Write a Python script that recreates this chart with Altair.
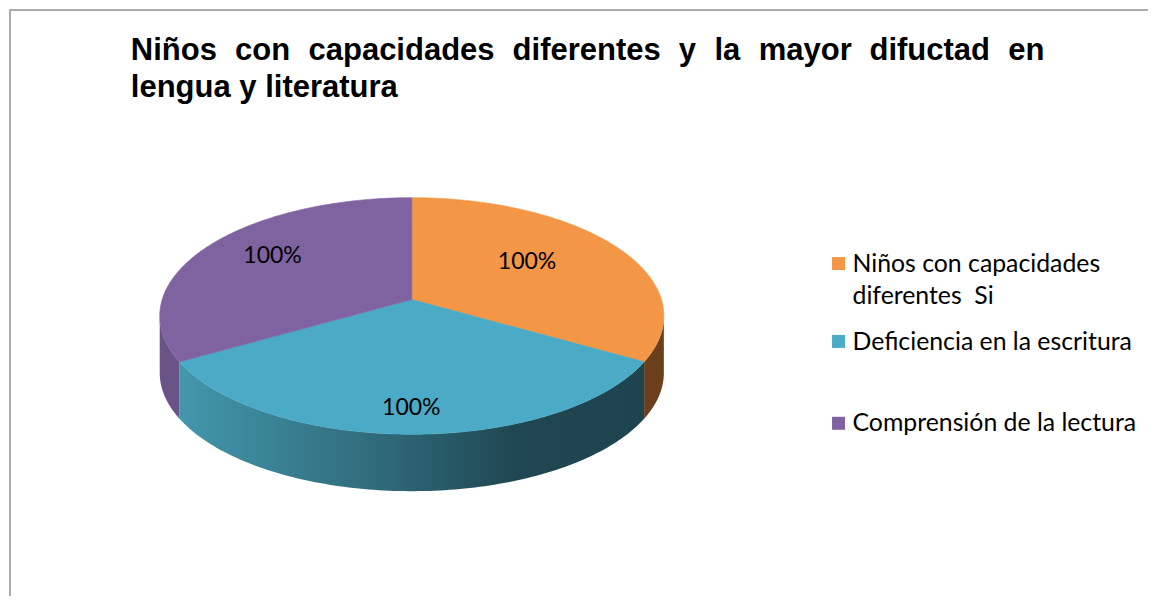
import altair as alt
import numpy as np
import pandas as pd

# ---------------- data ----------------
categories = ["Niños con capacidades diferentes  Si", "Deficiencia en la escritura", "Comprensión de la lectura"]
legend_labels = ["Niños con capacidades\ndiferentes \u00a0Si", "Deficiencia en la escritura", "Comprensión de la lectura"]
values = [100, 100, 100]
value_labels = ["100%", "100%", "100%"]
title_line1 = ["Niños", "con", "capacidades", "diferentes", "y", "la", "mayor", "difuctad", "en"]
title_line2 = ["lengua y literatura"]

# ---------------- styles / layout ----------------
top_colors = ["#F39646", "#4BAAC5", "#7F63A1"]
side_colors = ["#6B3E1C", "#2F6A78", "#6A5487"]
blue_side_gradient = alt.LinearGradient(
    gradient="linear",
    stops=[alt.GradientStop(color="#4397AC", offset=0),
           alt.GradientStop(color="#2E6877", offset=0.45),
           alt.GradientStop(color="#1F4651", offset=0.73),
           alt.GradientStop(color="#1E4450", offset=1)],
    x1=0, x2=1, y1=0, y2=0)

CX, CY, RX, RY, DEPTH, TILT = 411.5, 316.5, 252.5, 118.5, 57.0, -0.139
LABEL_POS = [(527, 262), (411, 409), (272, 256)]        # pie label anchors
LEGEND_SQ_Y = [264, 342, 424]
LEGEND_TXT_Y = [272, 351, 432]
LEGEND_SQ_X, LEGEND_TXT_X = 839, 853
TITLE_X1 = [130, 234.5, 308, 512.5, 679, 714.7, 759, 870, 1009]
TITLE_Y1, TITLE_Y2, TITLE_X2 = 60, 97, 130

CH = 1 / np.sqrt(1 - TILT ** 2)
SH = TILT * CH


def project(a, r=1.0):
    """Perspective projection of a point on the pie disk (angle clockwise from top)."""
    x = r * np.sin(a)
    y = -r * np.cos(a)
    den = y * SH + CH
    return CX + RX * x / den, CY + RY * (y * CH + SH) / den


total = float(sum(values))
bounds = np.concatenate([[0.0], np.cumsum(values) / total * 2 * np.pi])
front_lo, front_hi = np.arccos(TILT), 2 * np.pi - np.arccos(TILT)

X = lambda: alt.X("x:Q", scale=alt.Scale(domain=[8, 1148], nice=False, zero=False), axis=None)
Y = lambda: alt.Y("y:Q", scale=alt.Scale(domain=[8, 596], nice=False, zero=False, reverse=True), axis=None)

layers = []

# side faces
for i, cat in enumerate(categories):
    a0, a1 = max(bounds[i], front_lo), min(bounds[i + 1], front_hi)
    if a1 <= a0:
        continue
    aa = np.linspace(a0, a1, 120)
    px, py = project(aa)
    df = pd.DataFrame({"x": px, "y": py, "y2": py + DEPTH, "cat": cat})
    fill = blue_side_gradient if i == 1 else side_colors[i]
    layers.append(
        alt.Chart(df).mark_area(color=fill, strokeWidth=0)
        .encode(x=X(), y=Y(), y2="y2:Q")
    )

# top faces
for i, cat in enumerate(categories):
    aa = np.linspace(bounds[i], bounds[i + 1], 160)
    px, py = project(aa)
    ax, ay = project(0.0, 0.0)
    xs = np.concatenate([[ax], px, [ax]])
    ys = np.concatenate([[ay], py, [ay]])
    df = pd.DataFrame({"x": xs, "y": ys, "o": np.arange(len(xs)), "cat": cat})
    layers.append(
        alt.Chart(df).mark_line(fill=top_colors[i], stroke=top_colors[i], strokeWidth=0.6)
        .encode(x=X(), y=Y(), order="o:Q")
    )

# value labels
lab_df = pd.DataFrame({"x": [p[0] for p in LABEL_POS], "y": [p[1] for p in LABEL_POS], "t": value_labels})
layers.append(
    alt.Chart(lab_df).mark_text(font="Lato", fontSize=23, color="#000000", align="center", baseline="middle")
    .encode(x=X(), y=Y(), text="t:N")
)

# legend
leg_sq = pd.DataFrame({"x": [LEGEND_SQ_X] * 3, "y": LEGEND_SQ_Y, "cat": categories})
layers.append(
    alt.Chart(leg_sq).mark_square(size=169, opacity=1, filled=True)
    .encode(x=X(), y=Y(), color=alt.Color("cat:N", scale=alt.Scale(domain=categories, range=top_colors), legend=None))
)
leg_tx = pd.DataFrame({"x": [LEGEND_TXT_X] * 3, "y": LEGEND_TXT_Y, "t": legend_labels})
layers.append(
    alt.Chart(leg_tx).mark_text(font="Lato", fontSize=24.8, color="#000000", align="left",
                                baseline="alphabetic", lineBreak="\n", lineHeight=32)
    .encode(x=X(), y=Y(), text="t:N")
)

# title
t1 = pd.DataFrame({"x": TITLE_X1, "y": [TITLE_Y1] * len(title_line1), "t": title_line1})
t2 = pd.DataFrame({"x": [TITLE_X2], "y": [TITLE_Y2], "t": title_line2})
for tdf in (t1, t2):
    layers.append(
        alt.Chart(tdf).mark_text(font="Liberation Sans", fontSize=31, fontWeight="bold", color="#000000",
                                 align="left", baseline="alphabetic")
        .encode(x=X(), y=Y(), text="t:N")
    )

# frame lines
layers.append(alt.Chart(pd.DataFrame({"a": [0]})).mark_rule(color="#ABABAB", strokeWidth=2)
              .encode(x=alt.value(0), x2=alt.value(1140), y=alt.value(2)))
layers.append(alt.Chart(pd.DataFrame({"a": [0]})).mark_rule(color="#ABABAB", strokeWidth=2)
              .encode(x=alt.value(1), y=alt.value(1), y2=alt.value(588)))

chart = (
    alt.layer(*layers)
    .properties(width=1140, height=588, padding=0,
                autosize=alt.AutoSizeParams(type="fit", contains="padding"),
                background="#FFFFFF")
    .configure_view(stroke=None)
)

chart.save("out.html", embed_options={"renderer": "svg", "actions": False})
